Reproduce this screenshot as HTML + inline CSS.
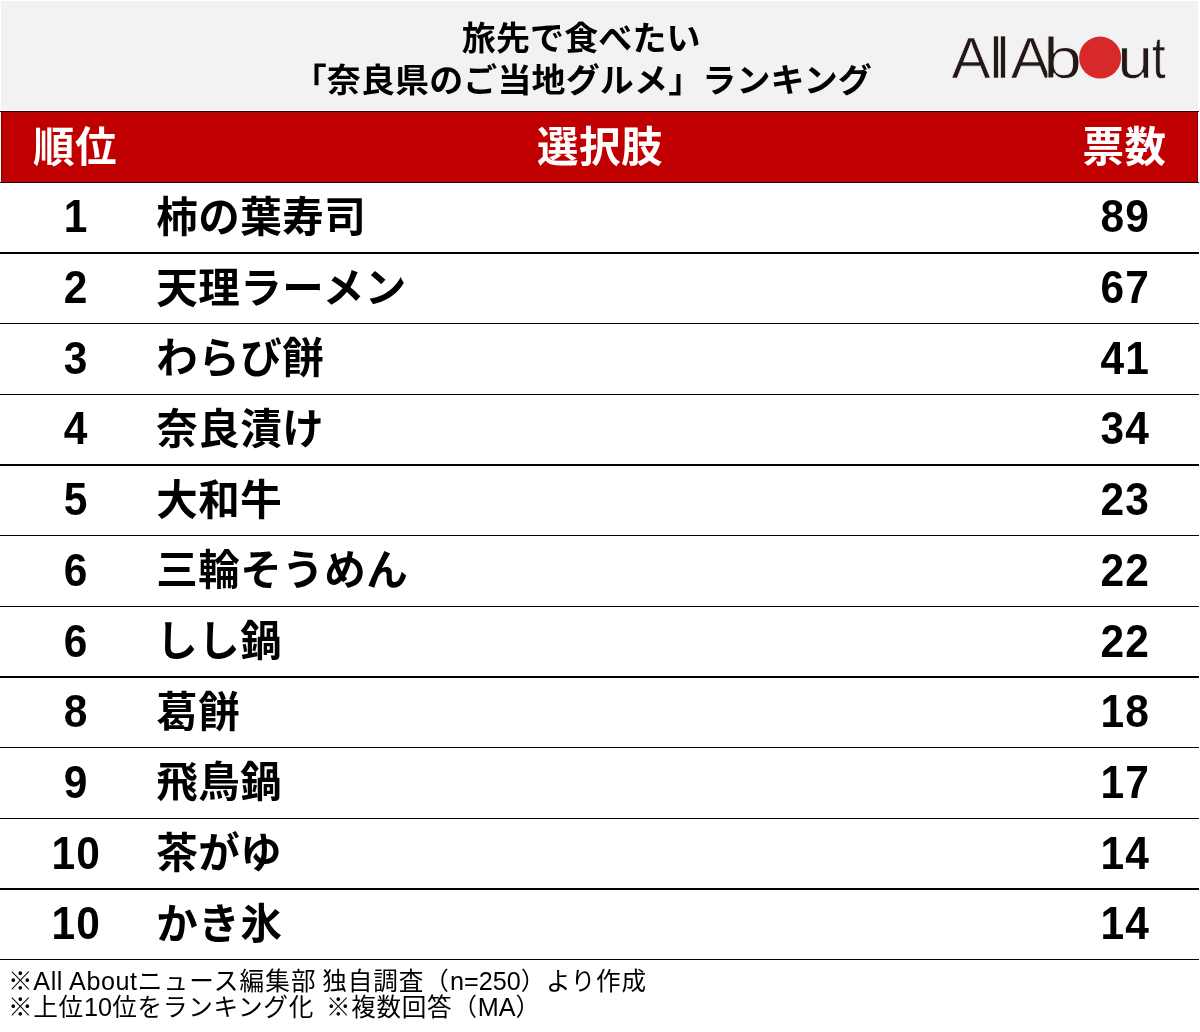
<!DOCTYPE html>
<html lang="ja">
<head>
<meta charset="utf-8">
<title>旅先で食べたい「奈良県のご当地グルメ」ランキング</title>
<style>
html,body{margin:0;padding:0;background:#fff;}
html{overflow:hidden;}
body{width:1200px;height:1032px;overflow:hidden;}
.page{position:absolute;left:0;top:0;width:1200px;height:1032px;overflow:hidden;background:#fff;font-family:"Liberation Sans","Noto Sans CJK JP",sans-serif;color:#000;}
.top{position:absolute;left:1px;top:1px;width:1197px;height:109px;background:#f2f2f2;}
.tl{position:absolute;left:0;width:1163px;letter-spacing:0.13px;text-align:center;font-size:34px;line-height:40px;height:40px;font-weight:700;color:#000;white-space:nowrap;transform-origin:50% 50%;transform:scaleY(0.975);}
.tl1{top:17.3px;margin-left:-1.2px;}
.tl2{top:59px;margin-left:-0.2px;}
.logo{position:absolute;left:940px;top:20px;width:240px;height:80px;overflow:visible;}
.hd{position:absolute;left:1px;top:111px;width:1197px;height:72px;background:linear-gradient(to bottom,#a30a0a 0,#a30a0a 2px,#c00000 2px,#c00000 70px,#a30a0a 70px,#a30a0a 72px);color:#fff;font-weight:700;font-size:41.5px;line-height:70px;letter-spacing:0.5px;}
.hd:before,.hd:after{content:"";position:absolute;left:-1px;width:1199px;height:1px;background:#2e0000;}
.hd:before{top:0;}
.hd:after{bottom:0;}
.hd i{position:absolute;top:1px;width:1px;height:70px;background:#8a0000;}
.hd span{position:absolute;top:1.6px;width:140px;margin-left:-70px;text-align:center;white-space:nowrap;}
.row{position:absolute;left:0;width:1200px;height:70.69px;font-weight:700;line-height:68px;}
.row span{position:absolute;top:0;white-space:nowrap;}
.name{left:156.3px;font-size:41.5px;letter-spacing:0.5px;margin-top:1.0px;}
.num{letter-spacing:1px;text-indent:1px;width:140px;margin-left:-70px;text-align:center;font-size:42.5px;-webkit-text-stroke:0px #fff;transform-origin:50% 50%;transform:scaleY(1.075);margin-top:0.5px;}
.rank{left:75.7px;}
.votes{left:1124.75px;}
.rule{position:absolute;left:0;width:1199px;background:#000;}
.ft{position:absolute;left:8px;font-size:24.6px;line-height:30px;height:30px;font-weight:400;white-space:nowrap;letter-spacing:0.7px;}
.ft b{font-weight:400;letter-spacing:0;}
.f1{top:966.1px;}
.f2{top:992px;}
</style>
</head>
<body>
<div class="page">
<div class="top">
<div class="tl tl1">旅先で食べたい</div>
<div class="tl tl2">「奈良県のご当地グルメ」ランキング</div>
</div>
<svg class="logo" viewBox="0 0 240 80" role="img" aria-label="All About" font-family="Liberation Sans, sans-serif" font-size="58" fill="#231815" stroke="#f2f2f2" stroke-width="0.7"><text transform="translate(11.5 58) scale(1.01 1)">A</text><text transform="translate(49.4 58)">l</text><text transform="translate(56.4 58)">l</text><text transform="translate(66 58)" stroke="none"> </text><text transform="translate(70.8 58) scale(1.02 1)">A</text><text transform="translate(103.2 58) scale(1.2 1)" stroke-width="0.8" paint-order="fill">b</text><text transform="translate(146 52) scale(1 1)" font-size="50" fill="#d7282a" stroke="none">o</text><circle cx="160.1" cy="37.6" r="21" fill="#d7282a" stroke="none"/><text transform="translate(177.6 58) scale(1.1 1)">u</text><text transform="translate(212 58) scale(0.85 1.03)">t</text></svg>
<div class="hd"><i style="left:0"></i><i style="right:0"></i><span style="left:74px">順位</span><span style="left:599px">選択肢</span><span style="left:1123.5px">票数</span></div>
<div class="row" style="top:182.90px"><span class="rank num">1</span><span class="name">柿の葉寿司</span><span class="votes num">89</span></div>
<div class="row" style="top:253.59px"><span class="rank num">2</span><span class="name">天理ラーメン</span><span class="votes num">67</span></div>
<div class="row" style="top:324.28px"><span class="rank num">3</span><span class="name">わらび餅</span><span class="votes num">41</span></div>
<div class="row" style="top:394.97px"><span class="rank num">4</span><span class="name">奈良漬け</span><span class="votes num">34</span></div>
<div class="row" style="top:465.66px"><span class="rank num">5</span><span class="name">大和牛</span><span class="votes num">23</span></div>
<div class="row" style="top:536.35px"><span class="rank num">6</span><span class="name">三輪そうめん</span><span class="votes num">22</span></div>
<div class="row" style="top:607.04px"><span class="rank num">6</span><span class="name">しし鍋</span><span class="votes num">22</span></div>
<div class="row" style="top:677.73px"><span class="rank num">8</span><span class="name">葛餅</span><span class="votes num">18</span></div>
<div class="row" style="top:748.42px"><span class="rank num">9</span><span class="name">飛鳥鍋</span><span class="votes num">17</span></div>
<div class="row" style="top:819.11px"><span class="rank num">10</span><span class="name">茶がゆ</span><span class="votes num">14</span></div>
<div class="row" style="top:889.80px"><span class="rank num">10</span><span class="name">かき氷</span><span class="votes num">14</span></div>
<div class="rule" style="top:252px;height:2px"></div><div class="rule" style="top:323px;height:1px"></div><div class="rule" style="top:394px;height:1px"></div><div class="rule" style="top:464px;height:2px"></div><div class="rule" style="top:535px;height:1px"></div><div class="rule" style="top:606px;height:1px"></div><div class="rule" style="top:676px;height:2px"></div><div class="rule" style="top:747px;height:1px"></div><div class="rule" style="top:818px;height:1px"></div><div class="rule" style="top:888px;height:2px"></div><div class="rule" style="top:959px;height:1px"></div>
<div class="ft f1"><span>※</span><b style="font-size:25.2px;letter-spacing:0.55px">All About</b><span style="letter-spacing:1.15px">ニュース編集部</span> <span style="margin-left:-2.04px;letter-spacing:0.9px">独自調査（</span><b style="font-size:25.2px;letter-spacing:0px;margin-left:0.3px">n=250</b><span>）より作成</span></div>
<div class="ft f2"><span>※上位</span><b style="font-size:25.2px;letter-spacing:0.2px">10</b><span>位をランキング化</span> <span style="margin-left:4.46px">※複数回答（</span><b style="font-size:25.2px">MA</b><span>）</span></div>
</div>
</body>
</html>
